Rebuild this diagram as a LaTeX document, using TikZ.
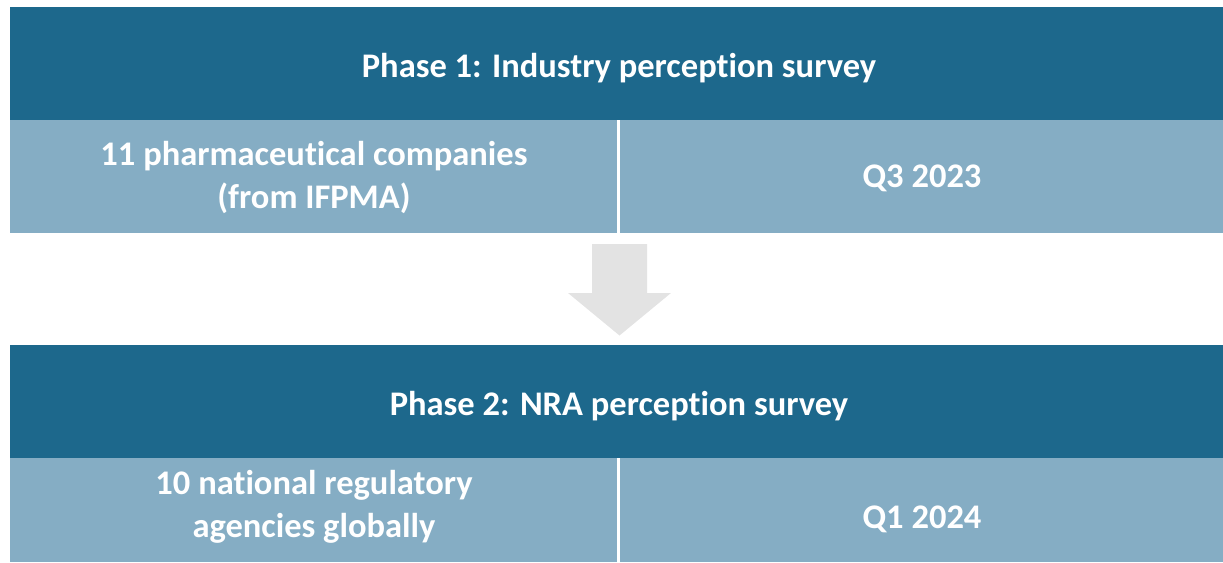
\documentclass[tikz,border=0pt]{standalone}
\usepackage{fontspec}
\setmainfont{Carlito}[Ligatures=NoCommon]
\definecolor{phasebar}{RGB}{29,104,140}
\definecolor{detailbar}{RGB}{133,173,196}
\definecolor{flowgray}{RGB}{227,227,227}
\begin{document}
\begin{tikzpicture}[x=1pt,y=-1pt,
  label/.style={text=white,font=\fontsize{34.5}{43}\selectfont\bfseries,align=center,anchor=base,inner sep=0pt}]
\useasboundingbox (0,0) rectangle (1223,562);
% phase 1
\fill[phasebar] (9.5,7) rectangle (1223,120);
\fill[detailbar] (9.5,120) rectangle (617,232.5);
\fill[detailbar] (620,120) rectangle (1223,232.5);
\node[label] (p1) at (619,77.5) {Phase 1: Industry perception survey};
\node[label] (p1who) at (314,208) {11 pharmaceutical companies\\(from IFPMA)};
\node[label] (p1when) at (922,187) {Q3 2023};
% transition arrow
\fill[flowgray] (592,244) -- (647,244) -- (647,293) -- (671,293) -- (619.5,335.5)
  -- (568,293) -- (592,293) -- cycle;
% phase 2
\fill[phasebar] (9.5,345) rectangle (1223,458);
\fill[detailbar] (9.5,458) rectangle (617,562);
\fill[detailbar] (620,458) rectangle (1223,562);
\node[label] (p2) at (619,415.5) {Phase 2: NRA perception survey};
\node[label] (p2who) at (314,537) {10 national regulatory\\agencies globally};
\node[label] (p2when) at (922,528.5) {Q1 2024};
\end{tikzpicture}
\end{document}
